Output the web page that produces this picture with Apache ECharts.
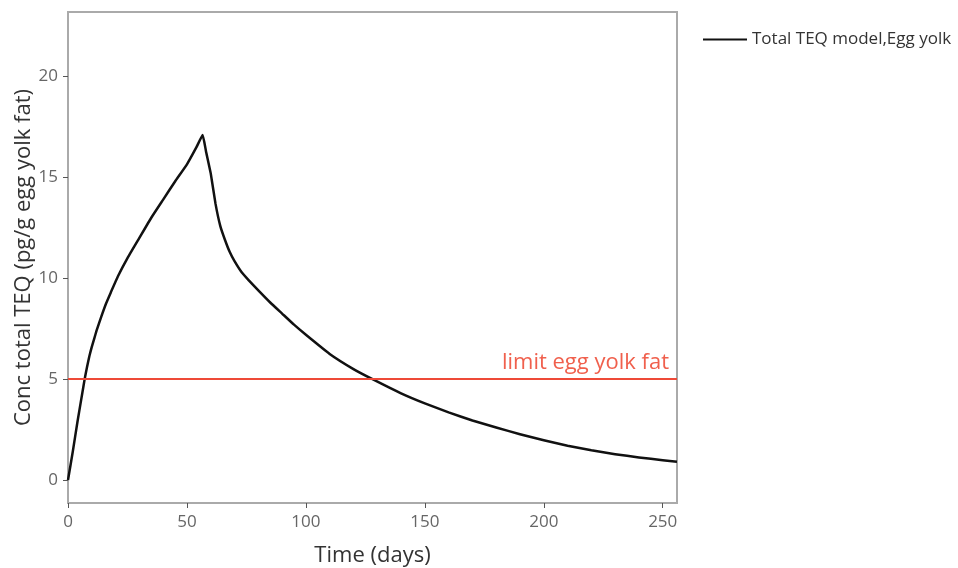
<!DOCTYPE html>
<html>
<head>
<meta charset="utf-8">
<script src="https://cdn.jsdelivr.net/npm/echarts@6/dist/echarts.min.js"></script>
<style>html,body{margin:0;padding:0;background:#fff}#c{width:958px;height:568px}</style>
</head>
<body>
<div id="c"></div>
<script>
const timeDays = [0,2,4,6,7,8,9,10,11,12,14,16,18,21,25,30,35,40,45,50,54,56.6,58,60,62,64,66,68,70,73,76,80,85,90,95,100,110,120,128,140,150,160,170,180,190,200,210,220,230,240,250,256];
const teqValues = [0,1.4,2.9,4.3,5.0,5.6,6.15,6.6,7.0,7.4,8.1,8.75,9.3,10.1,11.0,12.0,13.0,13.9,14.8,15.65,16.5,17.1,16.3,15.2,13.7,12.6,11.9,11.3,10.85,10.3,9.9,9.4,8.8,8.25,7.7,7.2,6.25,5.5,5.0,4.3,3.8,3.35,2.95,2.6,2.27,1.97,1.7,1.47,1.28,1.12,0.98,0.91];
const limitValue = 5;
const seriesName = 'Total TEQ model,Egg yolk';
const limitLabel = 'limit egg yolk fat';
const xTitle = 'Time (days)';
const yTitle = 'Conc total TEQ (pg/g egg yolk fat)';

const font = '"Open Sans", "Noto Sans", sans-serif';
const chart = echarts.init(document.getElementById('c'), null, {renderer: 'canvas'});
chart.setOption({
  animation: false,
  backgroundColor: '#fff',
  grid: {left: 68, right: 281, top: 12, bottom: 65, show: true, borderColor: '#aaa', borderWidth: 2, backgroundColor: 'transparent', containLabel: false, outerBoundsMode: 'none'},
  legend: {
    left: 698, top: 26, itemWidth: 44, itemHeight: 14, itemGap: 10,
    textStyle: {fontFamily: font, fontSize: 17, color: '#333'},
    data: [{name: seriesName, icon: 'path://M0,6 L44,6 L44,8 L0,8 Z'}]
  },
  xAxis: {
    type: 'value', min: 0, max: 256, interval: 50,
    name: xTitle, nameLocation: 'middle', nameGap: 42, nameMoveOverlap: false,
    nameTextStyle: {fontFamily: font, fontSize: 22, color: '#333'},
    axisLine: {show: false, onZero: false},
    axisTick: {show: true, length: 5, lineStyle: {color: '#555', width: 1}},
    axisLabel: {fontFamily: font, fontSize: 17, color: '#666', margin: 11, showMaxLabel: false},
    splitLine: {show: false}
  },
  yAxis: {
    type: 'value', min: -1.14, max: 23.2, splitNumber: 5,
    name: yTitle, nameLocation: 'middle', nameGap: 33, nameMoveOverlap: false,
    nameTextStyle: {fontFamily: font, fontSize: 22, color: '#333'},
    axisLine: {show: false, onZero: false},
    axisTick: {show: true, length: 5, lineStyle: {color: '#555', width: 1}},
    axisLabel: {fontFamily: font, fontSize: 17, color: '#666', margin: 10, showMinLabel: false, showMaxLabel: false,
      formatter: v => (Math.abs(v % 5) < 1e-6 ? String(Math.round(v)) : '')},
    splitLine: {show: false}
  },
  series: [{
    name: seriesName, type: 'line', smooth: 0.12, showSymbol: false, symbol: 'none',
    data: timeDays.map((t, i) => [t, teqValues[i]]),
    lineStyle: {color: '#111', width: 2.5, join: 'round'},
    itemStyle: {color: '#111'},
    markLine: {
      silent: true, symbol: 'none',
      lineStyle: {color: '#ee4a38', width: 2, type: 'solid'},
      label: {show: true, position: 'insideEndTop', formatter: limitLabel, fontFamily: font, fontSize: 22, color: '#f0604d', distance: [8, 5]},
      data: [{yAxis: limitValue}]
    }
  }]
});
</script>
</body>
</html>
